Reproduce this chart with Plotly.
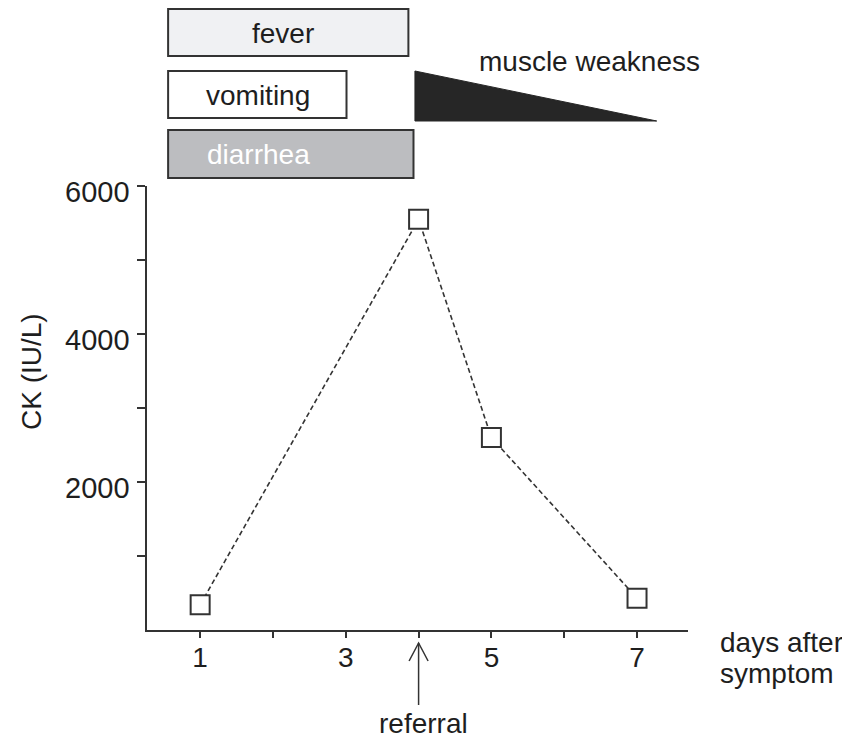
import plotly.graph_objects as go

# data
days = [1, 4, 5, 7]
ck = [340, 5550, 2600, 430]

x_tickvals = [1, 2, 3, 4, 5, 6, 7]
x_ticktext = ["1", "", "3", "", "5", "", "7"]
y_tickvals = [1000, 2000, 3000, 4000, 5000, 6000]
y_ticktext = ["", "2000", "", "4000", "", "6000"]

symptoms = ["fever", "vomiting", "diarrhea"]
sym_start = [0.56, 0.56, 0.56]
sym_end = [3.86, 3.01, 3.93]
sym_fill = ["#f0f1f3", "#ffffff", "#bcbdc0"]
sym_text_color = ["#1e1e1e", "#1e1e1e", "#ffffff"]
sym_text_x = [2.14, 1.8, 1.8]

weak_start = 3.95
weak_end = 7.27
referral_day = 4

FONT = "Liberation Sans, Arial, sans-serif"
DARK = "#333333"
TXT = "#1e1e1e"

# page offset of the figure inside the browser (body margin)
OFF = 8
XMIN, XMAX = 0.27, 7.70
W, H = 850 - OFF, 738 - OFF
L = 147 - OFF
R = W - (688 - OFF)
T = 186 - OFF
B = H - (630 - OFF)
pw = W - L - R
ph = H - T - B


def px(d):
    return (d - XMIN) / (XMAX - XMIN)


def qx(pix):
    return (pix - OFF - L) / pw


def py(pix):
    return (H - B - (pix - OFF)) / ph


fig = go.Figure()
fig.add_trace(go.Scatter(
    x=days, y=ck, mode="lines+markers",
    line=dict(color=DARK, width=1.6, dash="5px,3px"),
    marker=dict(symbol="square", size=19, color="white",
                line=dict(color=DARK, width=2)),
    showlegend=False, cliponaxis=False,
))

shapes = []
annotations = []
rows = [(9, 56), (71, 118), (130, 178)]
for i, name in enumerate(symptoms):
    y0, y1 = rows[i]
    shapes.append(dict(type="rect", xref="paper", yref="paper",
                       x0=px(sym_start[i]), x1=px(sym_end[i]),
                       y0=py(y1), y1=py(y0),
                       fillcolor=sym_fill[i], line=dict(color=DARK, width=2)))
    annotations.append(dict(text=name, xref="paper", yref="paper",
                            x=px(sym_text_x[i]), y=py((y0 + y1) / 2 + 1),
                            showarrow=False, xanchor="center", yanchor="middle",
                            font=dict(family=FONT, size=28, color=sym_text_color[i])))

# muscle weakness triangle
x0t, x1t = px(weak_start), px(weak_end)
shapes.append(dict(type="path", xref="paper", yref="paper",
                   path=f"M {x0t},{py(71)} L {x0t},{py(121)} L {x1t},{py(121)} Z",
                   fillcolor="#262626", line=dict(color="#262626", width=1)))
annotations.append(dict(text="muscle weakness", xref="paper", yref="paper",
                        x=qx(702), y=py(62), xanchor="right",
                        yanchor="middle", showarrow=False,
                        font=dict(family=FONT, size=28, color=TXT)))

# y tick labels (sit slightly below their ticks, as in the reference)
for v, t in zip(y_tickvals, y_ticktext):
    if t:
        annotations.append(dict(text=t, xref="paper", yref="y", x=qx(132), y=v,
                                xanchor="right", yanchor="middle", yshift=-6,
                                showarrow=False,
                                font=dict(family=FONT, size=29, color=TXT)))

# referral arrow
xr = px(referral_day)
ax_px = OFF + L + xr * pw
shapes.append(dict(type="line", xref="paper", yref="paper",
                   x0=xr, x1=xr, y0=py(705), y1=py(643),
                   line=dict(color=DARK, width=1.5)))
shapes.append(dict(type="path", xref="paper", yref="paper",
                   path=f"M {qx(ax_px - 9.5)},{py(661)} L {xr},{py(643)} L {qx(ax_px + 9.5)},{py(661)}",
                   line=dict(color=DARK, width=1.5)))
annotations.append(dict(text="referral", xref="paper", yref="paper",
                        x=qx(423), y=py(723), xanchor="center", yanchor="middle",
                        showarrow=False,
                        font=dict(family=FONT, size=28, color=TXT)))
annotations.append(dict(text="days after", xref="paper", yref="paper",
                        x=qx(718), y=py(642), xanchor="left", yanchor="middle",
                        showarrow=False,
                        font=dict(family=FONT, size=28, color=TXT)))
annotations.append(dict(text="symptom", xref="paper", yref="paper",
                        x=qx(718), y=py(673), xanchor="left", yanchor="middle",
                        showarrow=False,
                        font=dict(family=FONT, size=28, color=TXT)))
annotations.append(dict(text="CK (IU/L)", xref="paper", yref="paper",
                        x=qx(31), y=py(372), xanchor="center", yanchor="middle",
                        textangle=-90, showarrow=False,
                        font=dict(family=FONT, size=28, color=TXT)))

fig.update_layout(
    width=W, height=H, autosize=False,
    margin=dict(l=L, r=R, t=T, b=B),
    paper_bgcolor="white", plot_bgcolor="white",
    shapes=shapes, annotations=annotations,
    font=dict(family=FONT, size=28, color=TXT),
    xaxis=dict(range=[XMIN, XMAX], tickvals=x_tickvals, ticktext=x_ticktext,
               ticks="outside", ticklen=6, tickwidth=1.5, tickcolor=DARK,
               showline=True, linecolor=DARK, linewidth=2, showgrid=False,
               zeroline=False, ticklabelstandoff=-5,
               tickfont=dict(family=FONT, size=28, color=TXT)),
    yaxis=dict(range=[0, 6000], tickvals=y_tickvals, showticklabels=False,
               ticks="outside", ticklen=8, tickwidth=1.5, tickcolor=DARK,
               showline=True, linecolor=DARK, linewidth=2, showgrid=False,
               zeroline=False),
)

fig.write_html("out.html")
